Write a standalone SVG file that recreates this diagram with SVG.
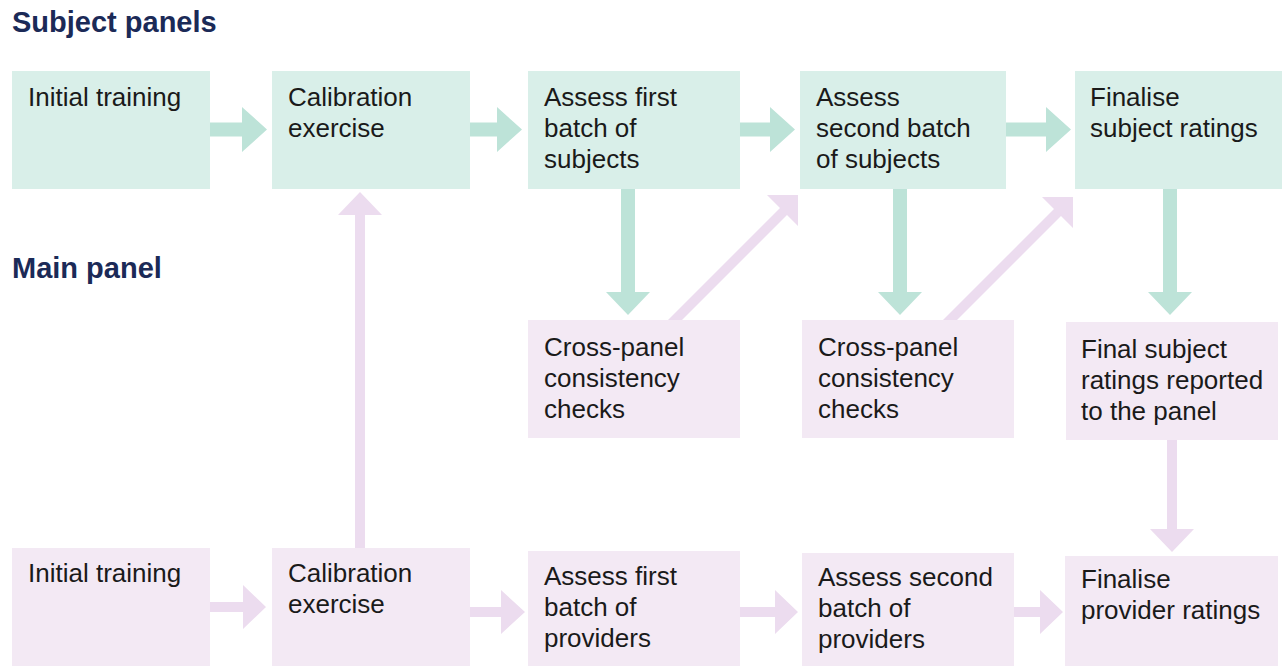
<svg xmlns="http://www.w3.org/2000/svg" width="1282" height="666" viewBox="0 0 1282 666">
<style>
.g{fill:#d9efe9}
.p{fill:#f3e9f4}
.ga{fill:#bde3d8}
.pa{fill:#ecdcef}
.t{font-family:"Liberation Sans",Arial,sans-serif;font-size:26px;fill:#1a1a1a}
.h{font-family:"Liberation Sans",Arial,sans-serif;font-size:29px;font-weight:bold;fill:#1b2a57}
</style>
<rect width="1282" height="666" fill="#ffffff"/>
<text class="h" x="12" y="32">Subject panels</text>
<text class="h" x="12" y="278">Main panel</text>

<g id="connectors">
<polygon class="ga" points="210,122.5 242,122.5 242,107 267,129.5 242,152 242,136.5 210,136.5"/>
<polygon class="ga" points="470,122.5 497,122.5 497,107 522,129.5 497,152 497,136.5 470,136.5"/>
<polygon class="ga" points="740,122.5 770,122.5 770,107 795,129.5 770,152 770,136.5 740,136.5"/>
<polygon class="ga" points="1006,122.5 1046,122.5 1046,107 1071,129.5 1046,152 1046,136.5 1006,136.5"/>
<polygon class="ga" points="621,189 635,189 635,292 650,292 628,315 606,292 621,292"/>
<polygon class="ga" points="893,189 907,189 907,292 922,292 900,315 878,292 893,292"/>
<polygon class="ga" points="1163,189 1177,189 1177,292 1192,292 1170,315 1148,292 1163,292"/>
<polygon class="pa" points="355,548 365,548 365,215 382,215 360,192 338,215 355,215"/>
<polygon class="pa" points="1167,440 1177,440 1177,529 1194,529 1172,552 1150,529 1167,529"/>
<polygon class="pa" points="668,320 780,208 767,195 798,195 798,226 787,215 682,320"/>
<polygon class="pa" points="943,320 1054,209 1042,197 1073,197 1073,228 1061,216 957,320"/>
<polygon class="pa" points="210,602 243,602 243,585 266,607 243,629 243,612 210,612"/>
<polygon class="pa" points="470,607 501,607 501,590 525,612 501,634 501,617 470,617"/>
<polygon class="pa" points="740,607 775,607 775,590 798,612 775,634 775,617 740,617"/>
<polygon class="pa" points="1014,607 1040,607 1040,590 1063,612 1040,634 1040,617 1014,617"/>
</g>

<g id="s-initial"><rect class="g" x="12" y="71" width="198" height="118"/><text class="t" x="28" y="106">Initial training</text></g>
<g id="s-calibration"><rect class="g" x="272" y="71" width="198" height="118"/><text class="t" x="288" y="106">Calibration</text><text class="t" x="288" y="137">exercise</text></g>
<g id="s-first"><rect class="g" x="528" y="71" width="212" height="118"/><text class="t" x="544" y="106">Assess first</text><text class="t" x="544" y="137">batch of</text><text class="t" x="544" y="168">subjects</text></g>
<g id="s-second"><rect class="g" x="800" y="71" width="206" height="118"/><text class="t" x="816" y="106">Assess</text><text class="t" x="816" y="137">second batch</text><text class="t" x="816" y="168">of subjects</text></g>
<g id="s-finalise"><rect class="g" x="1075" y="71" width="207" height="118"/><text class="t" x="1090" y="106">Finalise</text><text class="t" x="1090" y="137">subject ratings</text></g>

<g id="m-check1"><rect class="p" x="528" y="320" width="212" height="118"/><text class="t" x="544" y="356">Cross-panel</text><text class="t" x="544" y="387">consistency</text><text class="t" x="544" y="418">checks</text></g>
<g id="m-check2"><rect class="p" x="802" y="320" width="212" height="118"/><text class="t" x="818" y="356">Cross-panel</text><text class="t" x="818" y="387">consistency</text><text class="t" x="818" y="418">checks</text></g>
<g id="m-reported"><rect class="p" x="1066" y="322" width="212" height="118"/><text class="t" x="1081" y="358">Final subject</text><text class="t" x="1081" y="389">ratings reported</text><text class="t" x="1081" y="420">to the panel</text></g>

<g id="m-initial"><rect class="p" x="12" y="548" width="198" height="118"/><text class="t" x="28" y="582">Initial training</text></g>
<g id="m-calibration"><rect class="p" x="272" y="548" width="198" height="118"/><text class="t" x="288" y="582">Calibration</text><text class="t" x="288" y="613">exercise</text></g>
<g id="m-first"><rect class="p" x="528" y="551" width="212" height="115"/><text class="t" x="544" y="585">Assess first</text><text class="t" x="544" y="616">batch of</text><text class="t" x="544" y="647">providers</text></g>
<g id="m-second"><rect class="p" x="802" y="553" width="212" height="113"/><text class="t" x="818" y="586">Assess second</text><text class="t" x="818" y="617">batch of</text><text class="t" x="818" y="648">providers</text></g>
<g id="m-finalise"><rect class="p" x="1065" y="556" width="213" height="110"/><text class="t" x="1081" y="588">Finalise</text><text class="t" x="1081" y="619">provider ratings</text></g>
</svg>
